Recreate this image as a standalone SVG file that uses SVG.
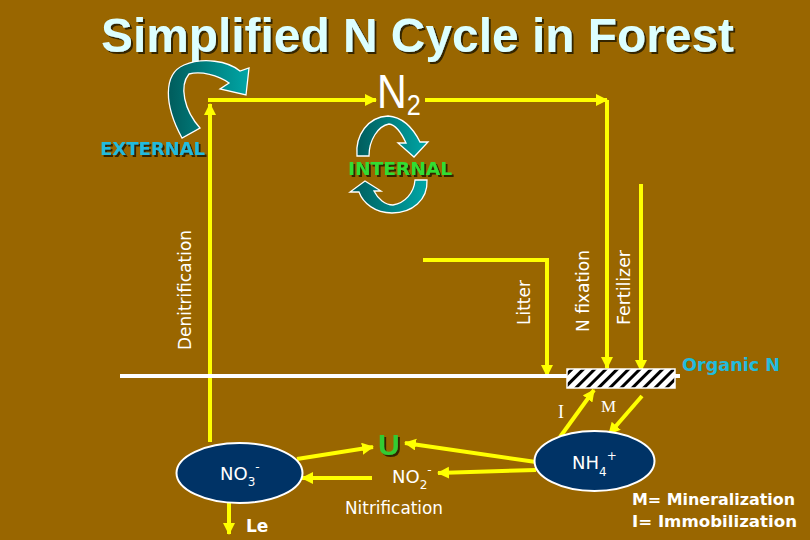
<svg xmlns="http://www.w3.org/2000/svg" width="810" height="540" viewBox="0 0 810 540">
<style>
.yl{fill:none;stroke:#ffff00;stroke-width:4}
.wt{fill:#fff;font-family:"DejaVu Sans",sans-serif}
.bold{font-weight:bold}
.ell{fill:#003366;stroke:#fff;stroke-width:2}
.arc{stroke:#fff;stroke-width:1.3}
</style>
<defs>
<marker id="ah" markerUnits="userSpaceOnUse" markerWidth="14" markerHeight="14" refX="11" refY="6" orient="auto">
<path d="M0,0 L12,6 L0,12 Z" fill="#ffff00"/>
</marker>
<linearGradient id="teal" x1="0" y1="0" x2="1" y2="0">
<stop offset="0" stop-color="#005c5c"/>
<stop offset="1" stop-color="#00a6a6"/>
</linearGradient>
<pattern id="hatch" patternUnits="userSpaceOnUse" width="8" height="8" patternTransform="rotate(45)">
<rect width="8" height="8" fill="#fff"/>
<rect width="3" height="8" fill="#000"/>
</pattern>
<filter id="sh" x="-5%" y="-5%" width="110%" height="120%">
<feDropShadow dx="2" dy="2" stdDeviation="0.5" flood-color="#2a1a00" flood-opacity="0.9"/>
</filter>
</defs>
<rect width="810" height="540" fill="#996600"/>

<g id="title">
<text x="101" y="52" textLength="633" lengthAdjust="spacingAndGlyphs" font-family="'Liberation Sans',Arial,sans-serif" font-weight="bold" font-size="49" fill="#dcffff" filter="url(#sh)">Simplified N Cycle in Forest</text>
</g>

<g id="connectors">
<path class="yl" d="M210,442 V104" marker-end="url(#ah)"/>
<path class="yl" d="M208,100 H376" marker-end="url(#ah)"/>
<path class="yl" d="M425,100 H607" marker-end="url(#ah)"/>
<path class="yl" d="M607,100 V368" marker-end="url(#ah)"/>
<path class="yl" d="M641,184 V371" marker-end="url(#ah)"/>
<path class="yl" d="M423,260 H547 V376" marker-end="url(#ah)"/>
<path class="yl" d="M297,459 L373,447" marker-end="url(#ah)"/>
<path class="yl" d="M536,462 L405,443" marker-end="url(#ah)"/>
<path class="yl" d="M536,470 L438,473" marker-end="url(#ah)"/>
<path class="yl" d="M372,478 L302,478" marker-end="url(#ah)"/>
<path class="yl" d="M229,503 V534" marker-end="url(#ah)"/>
<path class="yl" d="M560,437 L594,390" marker-end="url(#ah)"/>
<path class="yl" d="M642,396 L609,434" marker-end="url(#ah)"/>
</g>

<g id="n2">
<text transform="translate(377,108) scale(0.84,1)" font-family="'Liberation Sans',Arial,sans-serif" font-size="49" fill="#fff">N<tspan font-size="30" dy="7">2</tspan></text>
</g>

<g id="external">
<path class="arc" fill="url(#teal)" d="M182,138 C164,105 163,74 184,65 C203,57 228,61 240,71 L249,68 L246,95 L220,89 L229,83 C218,75 201,71 189,74 C179,86 184,110 200,128 Z"/>
<text x="100" y="155" textLength="105" lengthAdjust="spacingAndGlyphs" font-family="'DejaVu Sans',Verdana,sans-serif" font-weight="bold" font-size="18" fill="#22bbdd" filter="url(#sh)">EXTERNAL</text>
</g>

<g id="internal">
<path class="arc" fill="url(#teal)" d="M357,156 C355,135 368,117 388,116 C402,117 413,128 420,142 L428,142 L414,157 L398,143 L406,143 C401,132 396,125 389,124 C378,126 369,140 369,156 Z"/>
<path class="arc" fill="url(#teal)" d="M427,180 C428,200 412,213 392,213 C375,213 363,203 359,192 L350,192 L365,181 L381,191 L374,191 C378,199 385,205 393,205 C405,203 414,193 415,180 Z"/>
<text x="348" y="175" textLength="104" lengthAdjust="spacingAndGlyphs" font-family="'DejaVu Sans',Verdana,sans-serif" font-weight="bold" font-size="18" fill="#33dd33" filter="url(#sh)">INTERNAL</text>
</g>

<g id="labels">
<text class="wt" font-size="17" textLength="120" lengthAdjust="spacingAndGlyphs" transform="translate(191,350) rotate(-90)">Denitrification</text>
<text class="wt" font-size="17" textLength="45" lengthAdjust="spacingAndGlyphs" transform="translate(530,325) rotate(-90)">Litter</text>
<text class="wt" font-size="17" textLength="82" lengthAdjust="spacingAndGlyphs" transform="translate(589,332) rotate(-90)">N fixation</text>
<text class="wt" font-size="17" textLength="75" lengthAdjust="spacingAndGlyphs" transform="translate(630,325) rotate(-90)">Fertilizer</text>
</g>

<g id="soil">
<line x1="120" y1="376" x2="680" y2="376" stroke="#fff" stroke-width="4"/>
</g>

<g id="organic-n">
<rect x="567" y="369" width="108" height="19" fill="url(#hatch)" stroke="#fff" stroke-width="1.5"/>
<text x="682" y="371" textLength="98" lengthAdjust="spacingAndGlyphs" font-family="'DejaVu Sans',Verdana,sans-serif" font-weight="bold" font-size="17" fill="#22bbdd">Organic N</text>
</g>

<g id="im">
<text x="558" y="418" font-family="'Liberation Serif','Times New Roman',serif" font-size="18" fill="#fff">I</text>
<text x="601" y="412" font-family="'Liberation Serif','Times New Roman',serif" font-size="17" fill="#fff">M</text>
</g>

<g id="no3">
<ellipse class="ell" cx="239.5" cy="473" rx="63" ry="30"/>
<text class="wt" x="220" y="480" font-size="18">NO<tspan font-size="12" dy="6">3</tspan><tspan font-size="12" dy="-15">-</tspan></text>
</g>

<g id="nh4">
<ellipse class="ell" cx="594.5" cy="461" rx="60" ry="30"/>
<text class="wt" x="572" y="469" font-size="18">NH<tspan font-size="12" dy="7">4</tspan><tspan font-size="12" dy="-16">+</tspan></text>
</g>

<g id="u">
<text x="378" y="455" font-family="'Liberation Sans',Arial,sans-serif" font-weight="bold" font-size="30" fill="#33cc33" filter="url(#sh)">U</text>
</g>

<g id="no2">
<text class="wt" x="392" y="483" font-size="18">NO<tspan font-size="12" dy="6">2</tspan><tspan font-size="12" dy="-15">-</tspan></text>
<text class="wt" x="345" y="514" font-size="18" textLength="98" lengthAdjust="spacingAndGlyphs">Nitrification</text>
</g>

<g id="le">
<text class="wt bold" x="246" y="532" font-size="17">Le</text>
</g>

<g id="legend">
<text class="wt bold" x="632" y="505" font-size="16" textLength="163" lengthAdjust="spacingAndGlyphs">M= Mineralization</text>
<text class="wt bold" x="632" y="527" font-size="16" textLength="165" lengthAdjust="spacingAndGlyphs">I= Immobilization</text>
</g>
</svg>
